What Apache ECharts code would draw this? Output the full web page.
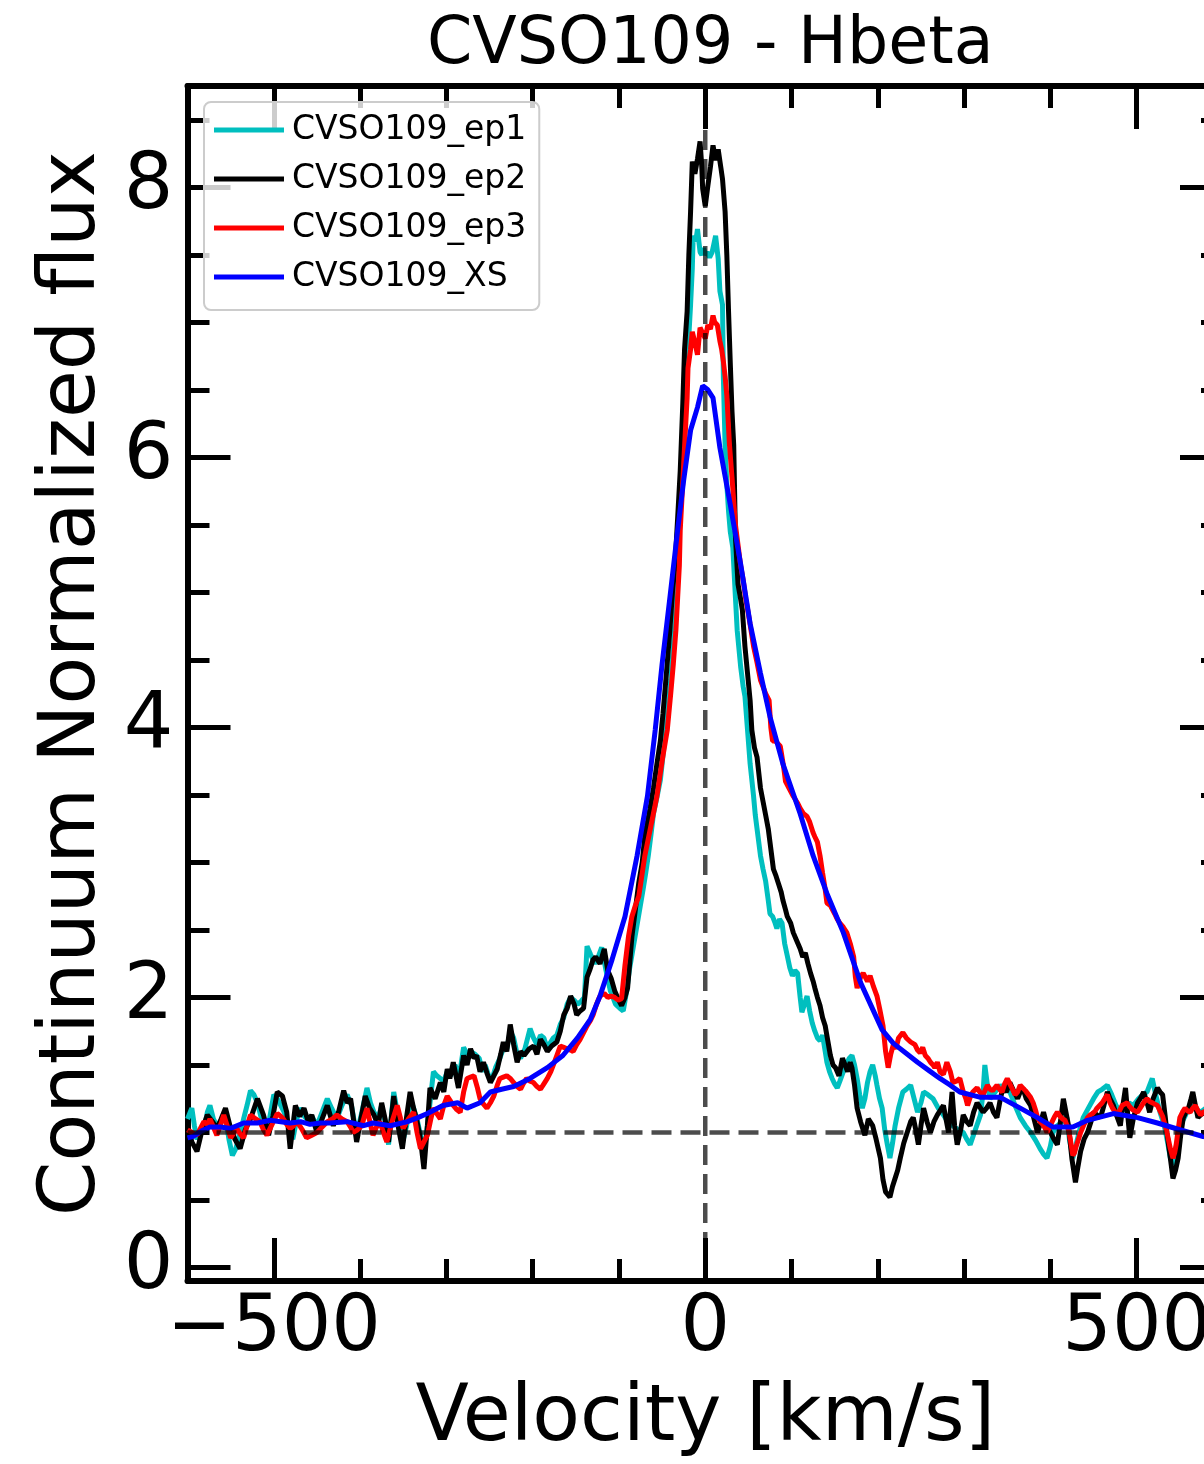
<!DOCTYPE html>
<html><head><meta charset="utf-8">
<script src="https://cdn.jsdelivr.net/npm/echarts@6/dist/echarts.min.js"></script>
<style>html,body{margin:0;padding:0;background:#fff;overflow:hidden;width:1204px;height:1464px}#chart{width:1232px;height:1464px}</style>
</head><body><div id="chart"></div>
<script>
const titleText = 'CVSO109 - Hbeta';
const xLabel = 'Velocity [km/s]';
const yLabel = 'Continuum Normalized flux';
const seriesNames = ['CVSO109_ep1', 'CVSO109_ep2', 'CVSO109_ep3', 'CVSO109_XS'];
const seriesColors = ['#00bfbf', '#000000', '#ff0000', '#0000ff'];
const xRange = [-600, 600];
const yRange = [-0.1, 8.75];
const xMajorTicks = [-500, 0, 500];
const xMinorStep = 100;
const yMajorTicks = [0, 2, 4, 6, 8];
const yMinorTicks = [0, 0.5, 1, 1.5, 2, 2.5, 3, 3.5, 4, 4.5, 5, 5.5, 6, 6.5, 7, 7.5, 8, 8.5];
const continuumLevel = 1;
const restVelocity = 0;

const ep1 = [[-600,1.10],[-595,1.18],[-592,1.05],[-589,0.95],[-584,1.00],[-580,1.05],[-577,1.15],[-574,1.20],[-570,1.10],[-566,1.05],[-561,1.08],[-556,1.12],[-552,0.95],[-548,0.83],[-544,0.88],[-541,0.95],[-538,1.02],[-535,1.10],[-531,1.20],[-527,1.31],[-523,1.28],[-519,1.22],[-515,1.12],[-510,1.05],[-505,1.10],[-500,1.28],[-496,1.25],[-492,1.20],[-488,1.15],[-485,1.10],[-481,1.00],[-478,0.95],[-474,1.08],[-470,1.18],[-466,1.13],[-462,1.10],[-456,1.12],[-450,1.05],[-444,1.15],[-438,1.25],[-433,1.18],[-427,1.10],[-421,1.20],[-415,1.28],[-410,1.20],[-404,0.98],[-398,1.15],[-392,1.33],[-388,1.22],[-384,1.15],[-379,1.10],[-375,1.20],[-371,1.08],[-367,0.91],[-364,1.10],[-361,1.30],[-356,1.12],[-351,0.92],[-346,1.05],[-342,1.25],[-338,1.18],[-334,1.10],[-330,0.98],[-326,0.85],[-321,1.10],[-315,1.45],[-311,1.42],[-307,1.40],[-303,1.38],[-299,1.45],[-295,1.42],[-290,1.50],[-285,1.42],[-280,1.63],[-276,1.58],[-272,1.60],[-267,1.58],[-262,1.55],[-258,1.45],[-255,1.50],[-251,1.42],[-247,1.40],[-243,1.48],[-238,1.55],[-234,1.62],[-230,1.62],[-226,1.75],[-222,1.70],[-218,1.58],[-214,1.55],[-209,1.62],[-203,1.77],[-199,1.70],[-195,1.65],[-191,1.72],[-187,1.70],[-183,1.62],[-180,1.66],[-176,1.70],[-172,1.72],[-168,1.80],[-164,1.85],[-160,1.95],[-156,2.00],[-152,1.98],[-148,1.95],[-144,1.97],[-140,2.00],[-137,2.38],[-133,2.32],[-128,2.25],[-124,2.30],[-120,2.37],[-115,2.20],[-110,2.05],[-104,1.95],[-99,1.92],[-95,1.90],[-91,2.05],[-88,2.20],[-84,2.35],[-80,2.50],[-76,2.65],[-72,2.80],[-69,2.92],[-66,3.05],[-63,3.20],[-60,3.36],[-56,3.48],[-52,3.61],[-48,3.85],[-44,4.10],[-40,4.35],[-37,4.60],[-34,4.90],[-32,5.21],[-29,5.55],[-27,5.90],[-24,6.25],[-22,6.60],[-19,6.90],[-17,7.13],[-15,7.40],[-14,7.64],[-11,7.60],[-9,7.69],[-6,7.52],[-4,7.50],[-2,7.55],[0,7.50],[2,7.52],[5,7.48],[8,7.52],[10,7.58],[12,7.64],[15,7.47],[17,7.23],[20,7.13],[21,6.59],[23,6.09],[25,5.80],[27,5.60],[29,5.45],[32,5.33],[35,4.96],[37,4.72],[41,4.45],[44,4.30],[46,4.23],[49,3.98],[52,3.73],[56,3.49],[58,3.35],[60,3.25],[64,3.05],[67,2.95],[70,2.86],[73,2.72],[75,2.62],[78,2.60],[81,2.55],[83,2.51],[86,2.58],[89,2.55],[92,2.40],[95,2.31],[98,2.22],[101,2.16],[104,2.20],[107,2.18],[110,2.00],[112,1.89],[115,1.95],[118,2.01],[121,1.90],[124,1.81],[127,1.75],[130,1.70],[133,1.68],[136,1.72],[139,1.60],[141,1.52],[144,1.45],[147,1.40],[150,1.36],[153,1.33],[156,1.38],[160,1.45],[163,1.50],[167,1.55],[170,1.57],[173,1.50],[176,1.40],[179,1.28],[182,1.18],[185,1.25],[188,1.37],[191,1.45],[194,1.50],[197,1.42],[199,1.35],[202,1.25],[205,1.18],[208,1.02],[211,0.91],[214,0.81],[217,0.92],[220,1.05],[224,1.18],[229,1.30],[233,1.32],[238,1.35],[242,1.25],[246,1.15],[250,1.22],[253,1.30],[258,1.28],[264,1.25],[270,1.18],[276,1.13],[281,1.08],[287,1.05],[293,1.02],[299,1.00],[303,0.95],[307,0.91],[313,1.02],[319,1.13],[322,1.30],[324,1.50],[327,1.35],[330,1.25],[336,1.30],[342,1.35],[347,1.32],[353,1.30],[359,1.20],[365,1.11],[371,1.05],[377,1.00],[383,0.94],[388,0.88],[392,0.84],[396,0.81],[400,0.90],[403,1.00],[408,1.05],[414,1.08],[419,1.11],[422,0.95],[426,0.81],[430,0.92],[434,1.02],[438,1.11],[444,1.18],[450,1.25],[455,1.30],[460,1.32],[466,1.35],[471,1.28],[476,1.20],[481,1.15],[487,1.18],[491,1.22],[496,1.20],[502,1.25],[507,1.28],[512,1.30],[518,1.40],[522,1.28],[527,1.15],[532,1.05],[536,0.92],[539,0.81],[542,0.76],[546,0.90],[550,1.05],[556,1.12],[562,1.20],[568,1.18],[574,1.15],[580,1.18],[587,1.14],[594,1.10],[600,1.12]];

const ep2 = [[-600,1.05],[-595,0.93],[-589,0.86],[-583,1.02],[-577,1.13],[-571,1.08],[-566,1.03],[-561,1.10],[-556,1.18],[-550,1.03],[-545,0.95],[-539,0.88],[-533,1.02],[-527,1.10],[-519,1.25],[-512,1.13],[-506,0.98],[-501,1.12],[-496,1.30],[-490,1.27],[-485,1.15],[-481,0.88],[-475,1.20],[-470,1.12],[-465,1.18],[-460,1.08],[-456,1.13],[-450,1.00],[-444,1.10],[-438,1.20],[-431,1.05],[-425,1.15],[-419,1.31],[-415,1.22],[-411,1.25],[-404,0.93],[-399,1.10],[-394,1.27],[-389,1.18],[-384,1.13],[-379,1.05],[-375,1.22],[-371,1.10],[-367,0.93],[-361,1.27],[-356,1.05],[-351,0.88],[-346,1.12],[-342,1.30],[-338,1.18],[-334,1.08],[-330,0.95],[-326,0.73],[-322,1.05],[-319,1.33],[-313,1.25],[-307,1.37],[-303,1.30],[-299,1.47],[-296,1.40],[-292,1.52],[-286,1.33],[-280,1.57],[-276,1.50],[-272,1.62],[-268,1.55],[-265,1.57],[-261,1.45],[-257,1.52],[-253,1.44],[-249,1.37],[-245,1.42],[-241,1.47],[-237,1.58],[-234,1.67],[-230,1.60],[-226,1.80],[-222,1.65],[-218,1.52],[-214,1.60],[-210,1.57],[-204,1.62],[-199,1.64],[-195,1.58],[-191,1.69],[-187,1.65],[-183,1.60],[-178,1.64],[-172,1.67],[-168,1.75],[-164,1.87],[-160,1.92],[-156,2.01],[-152,1.95],[-149,1.87],[-145,1.90],[-141,1.92],[-137,2.15],[-134,2.20],[-130,2.28],[-127,2.30],[-122,2.25],[-117,2.36],[-113,2.20],[-109,2.14],[-105,2.05],[-101,1.99],[-97,1.94],[-93,2.00],[-90,2.07],[-85,2.45],[-81,2.65],[-77,2.85],[-73,3.00],[-70,3.20],[-64,3.40],[-60,3.55],[-56,3.73],[-52,3.90],[-49,4.10],[-45,4.40],[-41,4.72],[-38,5.00],[-35,5.21],[-32,5.55],[-29,5.90],[-26,6.40],[-24,6.80],[-21,7.08],[-19,7.50],[-17,7.82],[-15,8.19],[-12,8.10],[-9,8.21],[-6,8.34],[-4,8.15],[-3,7.99],[0,7.86],[3,8.01],[6,8.15],[9,8.31],[12,8.20],[15,8.28],[18,8.15],[20,8.06],[23,7.82],[25,7.50],[27,7.08],[29,6.70],[31,6.34],[33,6.09],[35,5.41],[38,5.06],[41,4.95],[43,4.87],[46,4.60],[49,4.40],[52,4.20],[54,3.98],[57,3.85],[60,3.78],[64,3.55],[67,3.45],[70,3.35],[73,3.25],[75,3.15],[79,2.95],[82,2.90],[85,2.84],[88,2.78],[90,2.72],[93,2.65],[95,2.60],[99,2.55],[102,2.48],[106,2.42],[110,2.36],[113,2.30],[116,2.33],[119,2.25],[122,2.18],[125,2.12],[127,2.07],[130,2.00],[133,1.94],[136,1.85],[139,1.79],[142,1.68],[145,1.57],[148,1.50],[151,1.48],[155,1.42],[159,1.55],[162,1.50],[165,1.45],[168,1.52],[170,1.48],[173,1.35],[176,1.18],[180,1.08],[185,0.98],[189,1.10],[194,1.05],[198,0.95],[203,0.81],[206,0.65],[209,0.56],[214,0.52],[217,0.60],[220,0.66],[223,0.72],[226,0.81],[230,0.92],[234,1.00],[238,1.08],[241,1.11],[244,1.02],[247,0.91],[250,1.05],[253,1.18],[257,1.08],[261,1.00],[265,1.08],[269,1.13],[272,1.16],[276,1.20],[279,1.10],[282,1.00],[286,1.30],[289,1.05],[292,0.91],[296,1.02],[299,1.13],[303,1.08],[307,1.05],[311,1.15],[315,1.22],[319,1.18],[322,1.15],[326,1.18],[330,1.22],[334,1.15],[338,1.11],[342,1.25],[345,1.33],[349,1.30],[353,1.37],[358,1.30],[362,1.25],[365,1.30],[368,1.33],[372,1.25],[377,1.20],[381,1.10],[385,1.00],[389,1.08],[392,1.15],[396,1.05],[400,1.00],[404,0.95],[408,0.91],[412,1.10],[415,1.25],[418,1.15],[421,1.05],[425,0.80],[429,0.63],[432,0.75],[435,0.86],[439,0.95],[443,1.00],[447,1.08],[450,1.15],[454,1.13],[458,1.11],[462,1.20],[466,1.30],[469,1.25],[473,1.20],[477,1.12],[481,1.05],[484,1.20],[487,1.33],[490,1.10],[492,0.96],[496,1.10],[501,1.22],[505,1.26],[508,1.30],[512,1.22],[515,1.15],[519,1.25],[524,1.33],[527,1.30],[530,1.28],[533,1.12],[535,1.00],[539,0.81],[542,0.66],[545,0.72],[548,0.81],[551,0.98],[554,1.11],[557,1.15],[560,1.18],[563,1.25],[565,1.30],[568,1.20],[571,1.11],[574,1.13],[577,1.15],[582,1.12],[587,1.08],[591,1.14],[596,1.06],[600,1.04]];

const ep3 = [[-600,1.02],[-595,1.00],[-589,0.98],[-585,1.03],[-581,1.08],[-577,1.06],[-574,1.10],[-570,1.04],[-566,0.98],[-562,1.05],[-558,1.13],[-554,1.05],[-550,0.96],[-546,1.00],[-543,1.03],[-539,0.99],[-535,0.96],[-531,1.05],[-527,1.13],[-521,1.10],[-516,1.08],[-512,1.02],[-508,0.98],[-502,1.06],[-496,1.14],[-492,1.12],[-489,1.10],[-485,1.06],[-481,1.03],[-477,1.05],[-473,1.08],[-467,1.02],[-462,0.96],[-456,0.98],[-450,1.00],[-444,1.04],[-438,1.08],[-432,1.10],[-427,1.13],[-421,1.10],[-415,1.08],[-411,1.04],[-408,1.00],[-403,1.02],[-398,1.05],[-395,1.12],[-392,1.18],[-388,1.06],[-385,0.98],[-381,1.04],[-377,1.08],[-373,1.00],[-369,0.93],[-363,1.08],[-357,1.20],[-353,1.10],[-350,1.03],[-344,1.10],[-338,1.15],[-334,1.00],[-330,0.88],[-326,0.93],[-322,0.98],[-318,1.10],[-315,1.18],[-311,1.14],[-307,1.10],[-303,1.20],[-299,1.27],[-295,1.23],[-292,1.20],[-288,1.17],[-284,1.15],[-280,1.30],[-276,1.40],[-272,1.41],[-268,1.42],[-264,1.33],[-261,1.25],[-257,1.21],[-253,1.18],[-249,1.22],[-245,1.27],[-241,1.35],[-238,1.40],[-234,1.41],[-230,1.42],[-226,1.40],[-222,1.37],[-218,1.34],[-214,1.32],[-211,1.36],[-207,1.40],[-203,1.38],[-199,1.37],[-195,1.34],[-191,1.32],[-187,1.36],[-183,1.40],[-179,1.45],[-176,1.50],[-172,1.57],[-168,1.64],[-164,1.63],[-160,1.62],[-156,1.61],[-153,1.60],[-149,1.65],[-145,1.69],[-141,1.74],[-137,1.79],[-133,1.83],[-130,1.87],[-126,1.95],[-122,2.01],[-117,2.03],[-113,2.00],[-109,2.01],[-105,2.00],[-101,1.98],[-97,1.99],[-93,2.24],[-89,2.45],[-85,2.60],[-81,2.68],[-77,2.75],[-74,2.88],[-70,3.05],[-63,3.27],[-56,3.49],[-50,3.75],[-44,3.98],[-40,4.25],[-37,4.47],[-34,4.72],[-32,4.96],[-30,5.20],[-29,5.46],[-27,5.70],[-25,5.95],[-23,6.20],[-21,6.44],[-20,6.66],[-17,6.80],[-15,6.93],[-12,6.85],[-9,6.76],[-6,6.96],[-3,6.92],[0,6.88],[3,6.98],[6,6.95],[9,7.05],[11,7.00],[14,6.98],[17,6.86],[19,6.80],[21,6.71],[23,6.60],[25,6.46],[28,6.10],[31,5.85],[35,5.50],[38,5.35],[41,5.20],[44,5.09],[47,4.95],[50,4.84],[53,4.72],[56,4.60],[60,4.48],[64,4.35],[67,4.30],[70,4.25],[74,4.20],[76,4.00],[78,3.90],[81,3.90],[84,3.88],[87,3.86],[89,3.86],[91,3.70],[93,3.60],[97,3.55],[102,3.49],[107,3.44],[110,3.40],[114,3.36],[118,3.34],[121,3.30],[125,3.22],[127,3.19],[130,3.15],[133,3.05],[136,2.92],[139,2.80],[141,2.70],[145,2.68],[150,2.62],[153,2.58],[156,2.55],[160,2.52],[164,2.48],[168,2.40],[172,2.30],[174,2.15],[176,2.07],[180,2.15],[183,2.18],[188,2.12],[191,2.16],[195,2.08],[199,2.01],[202,1.92],[206,1.79],[209,1.60],[212,1.48],[215,1.58],[218,1.65],[221,1.62],[224,1.70],[229,1.74],[233,1.70],[238,1.67],[243,1.65],[246,1.61],[249,1.59],[252,1.63],[255,1.57],[258,1.55],[261,1.52],[264,1.50],[266,1.48],[269,1.52],[272,1.45],[276,1.43],[280,1.52],[284,1.45],[287,1.37],[291,1.38],[295,1.40],[299,1.30],[302,1.25],[304,1.20],[307,1.26],[310,1.30],[315,1.33],[318,1.30],[322,1.28],[327,1.35],[330,1.32],[333,1.31],[338,1.35],[341,1.32],[344,1.30],[347,1.36],[350,1.40],[353,1.36],[356,1.32],[359,1.28],[362,1.30],[365,1.35],[368,1.33],[371,1.31],[373,1.30],[377,1.26],[380,1.22],[383,1.16],[385,1.11],[388,1.08],[391,1.06],[394,1.03],[396,1.00],[399,1.04],[402,1.08],[405,1.12],[408,1.15],[411,1.12],[414,1.10],[417,1.09],[419,1.08],[421,1.02],[423,0.95],[426,0.83],[428,0.85],[430,0.90],[433,0.96],[435,1.00],[439,1.06],[443,1.11],[446,1.13],[449,1.14],[452,1.16],[454,1.18],[457,1.20],[460,1.22],[463,1.25],[466,1.28],[469,1.22],[472,1.18],[475,1.15],[477,1.13],[480,1.16],[483,1.20],[486,1.21],[489,1.22],[492,1.19],[495,1.17],[498,1.16],[501,1.15],[504,1.18],[506,1.20],[509,1.23],[512,1.25],[515,1.23],[518,1.22],[521,1.21],[524,1.20],[527,1.16],[530,1.12],[533,1.05],[535,1.00],[537,0.94],[539,0.88],[542,0.81],[544,0.85],[546,0.92],[548,1.02],[550,1.11],[553,1.15],[556,1.18],[559,1.16],[562,1.15],[565,1.18],[568,1.20],[571,1.16],[574,1.13],[577,1.15],[580,1.16],[584,1.14],[588,1.12],[594,1.11],[600,1.10]];

const xs = [[-600,0.96],[-594,0.97],[-584,1.01],[-574,1.04],[-562,1.04],[-550,1.03],[-535,1.07],[-519,1.07],[-504,1.09],[-492,1.08],[-481,1.07],[-469,1.08],[-458,1.06],[-446,1.07],[-435,1.07],[-415,1.08],[-396,1.05],[-385,1.07],[-365,1.05],[-345,1.08],[-333,1.11],[-322,1.14],[-304,1.20],[-287,1.22],[-276,1.18],[-261,1.22],[-249,1.30],[-236,1.32],[-222,1.34],[-203,1.40],[-183,1.48],[-165,1.57],[-148,1.70],[-133,1.84],[-122,2.01],[-108,2.28],[-93,2.60],[-79,3.05],[-67,3.49],[-58,3.98],[-50,4.47],[-41,4.96],[-32,5.46],[-25,5.83],[-17,6.20],[-9,6.37],[-3,6.53],[3,6.50],[9,6.44],[17,6.07],[29,5.65],[41,5.21],[52,4.77],[64,4.40],[75,4.08],[90,3.73],[110,3.36],[125,3.05],[141,2.77],[160,2.48],[180,2.11],[205,1.76],[218,1.66],[232,1.59],[246,1.52],[259,1.46],[272,1.40],[284,1.35],[295,1.30],[307,1.28],[319,1.26],[342,1.26],[365,1.18],[385,1.11],[403,1.04],[426,1.04],[443,1.09],[473,1.14],[501,1.11],[524,1.07],[550,1.02],[577,0.97],[600,0.95]];

const FONT = 'DejaVu Sans';
const CHART_W = 1232;
const chart = echarts.init(document.getElementById('chart'));

function measure(text, size) {
  const c = document.createElement('canvas').getContext('2d');
  c.font = size + 'px "' + FONT + '"';
  return c.measureText(text).width;
}
const minus = v => (v < 0 ? '\u2212' + Math.abs(v) : String(v));
const axisLine = { show: true, onZero: false, lineStyle: { color: '#000', width: 6 } };
const noLine = { show: false, onZero: false };
const tickStyle = { color: '#000', width: 5 };

function xAxisPair(pos, withLabel) {
  const base = { type: 'value', position: pos, min: xRange[0], max: xRange[1], splitLine: { show: false } };
  return [
    Object.assign({}, base, {
      interval: xMinorStep,
      axisLine: axisLine,
      axisTick: { show: true, inside: true, length: 22, lineStyle: tickStyle },
      axisLabel: withLabel ? { show: true, customValues: xMajorTicks, formatter: minus, fontFamily: FONT, fontSize: 78, color: '#000', margin: 10 } : { show: false },
      name: withLabel ? xLabel : '', nameLocation: 'middle', nameGap: 100,
      nameTextStyle: { fontFamily: FONT, fontSize: 78, color: '#000' }
    }),
    Object.assign({}, base, {
      axisLine: noLine,
      axisTick: { show: true, inside: true, length: 43, customValues: xMajorTicks, lineStyle: tickStyle },
      axisLabel: { show: false }
    })
  ];
}
function yAxisPair(pos, withLabel) {
  const base = { type: 'value', position: pos, min: yRange[0], max: yRange[1], splitLine: { show: false } };
  return [
    Object.assign({}, base, {
      axisLine: axisLine,
      axisTick: { show: true, inside: true, length: 22, customValues: yMinorTicks, lineStyle: tickStyle },
      axisLabel: withLabel ? { show: true, customValues: yMajorTicks, fontFamily: FONT, fontSize: 78, color: '#000', margin: 14 } : { show: false },
      name: withLabel ? yLabel : '', nameLocation: 'middle', nameGap: 70, nameRotate: 90,
      nameTextStyle: { fontFamily: FONT, fontSize: 78, color: '#000' }
    }),
    Object.assign({}, base, {
      axisLine: noLine,
      axisTick: { show: true, inside: true, length: 43, customValues: yMajorTicks, lineStyle: tickStyle },
      axisLabel: { show: false }
    })
  ];
}

const lineSeries = [ep1, ep2, ep3, xs].map((d, i) => ({
  name: seriesNames[i], type: 'line', data: d, showSymbol: false, symbol: 'none',
  lineStyle: { color: seriesColors[i], width: 5 }, itemStyle: { color: seriesColors[i] },
  z: 2 + i, animation: false, silent: true
}));
const refStyle = { color: 'rgba(0,0,0,0.7)', width: 4.5, type: [20, 9] };
const refSeries = [
  { name: 'continuum', type: 'line', data: [[xRange[0], continuumLevel], [xRange[1], continuumLevel]], showSymbol: false, symbol: 'none', lineStyle: refStyle, z: 8, animation: false, silent: true },
  { name: 'rest', type: 'line', data: [[restVelocity, yRange[0]], [restVelocity, yRange[1]]], showSymbol: false, symbol: 'none', lineStyle: refStyle, z: 8, animation: false, silent: true }
];

const titleSize = 65;
const plotLeft = 187.5, plotRight = 1223;
chart.setOption({
  animation: false,
  backgroundColor: '#fff',
  title: {
    text: titleText,
    left: (plotLeft + plotRight) / 2 - measure(titleText, titleSize) / 2,
    top: 9,
    textStyle: { fontFamily: FONT, fontSize: titleSize, fontWeight: 'normal', color: '#000' }
  },
  legend: {
    data: seriesNames, orient: 'vertical', left: 204, top: 102,
    padding: [8, 13, 13, 10], itemWidth: 70, itemHeight: 5, itemGap: 9, icon: 'rect',
    selectedMode: false,
    backgroundColor: 'rgba(255,255,255,0.8)', borderColor: '#cccccc', borderWidth: 2, borderRadius: 7,
    textStyle: { fontFamily: FONT, fontSize: 33, color: '#000', lineHeight: 40, padding: [0, 0, 0, 3] }
  },
  grid: { left: plotLeft, right: CHART_W - plotRight, top: 86, bottom: 177.5, containLabel: false },
  xAxis: [].concat(xAxisPair('bottom', true), xAxisPair('top', false)),
  yAxis: [].concat(yAxisPair('left', true), yAxisPair('right', false)),
  series: lineSeries.concat(refSeries)
});
</script></body></html>
